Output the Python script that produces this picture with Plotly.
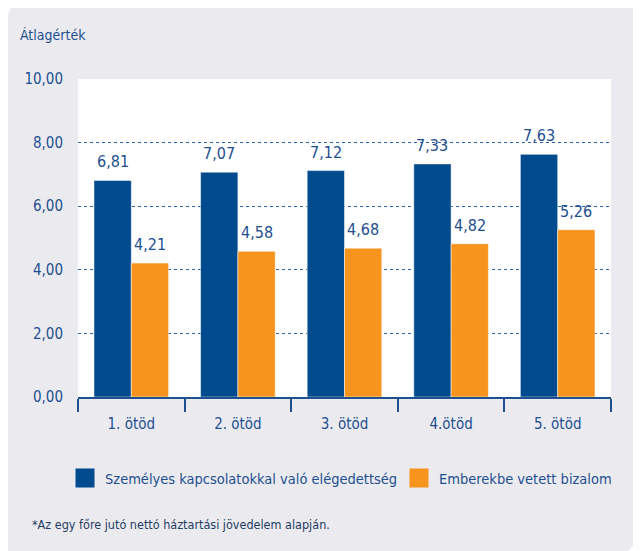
import plotly.graph_objects as go

categories = ["1. ötöd", "2. ötöd", "3. ötöd", "4.ötöd", "5. ötöd"]
series_names = ["Személyes kapcsolatokkal való elégedettség", "Emberekbe vetett bizalom"]
satisfaction = [6.81, 7.07, 7.12, 7.33, 7.63]
trust = [4.21, 4.58, 4.68, 4.82, 5.26]
y_ticks = [0, 2, 4, 6, 8, 10]
grid_vals = [2, 4, 6, 8]
y_title = "Átlagérték"
footnote = "*Az egy főre jutó nettó háztartási jövedelem alapján."

# the page puts the figure 8px in from the top-left corner
OFF = 8
W, H = 641 - OFF, 551 - OFF
L, R, T, B = 78 - OFF, 30, 79 - OFF, 154
PW, PH = W - L - R, H - T - B

BLUE = "#004a8e"
ORANGE = "#f7941e"
TXT = "#1d4f91"
GRAY = "#ebebef"
FONT = "DejaVu Sans Condensed, Liberation Sans Narrow, sans-serif"
BARGAP = 0.3


def px(x):
    return (x - OFF - L) / PW


def py(y):
    return 1 - (y - OFF - T) / PH


def path(points):
    s = ""
    for i, (a, b) in enumerate(points):
        s += ("M" if i == 0 else "L") + f"{px(a):.5f},{py(b):.5f} "
    return s + "Z"


fig = go.Figure()
fig.add_trace(go.Bar(x=categories, y=satisfaction, name=series_names[0],
                     marker=dict(color=BLUE, line=dict(color="rgba(255,255,255,0.5)", width=1)), showlegend=False))
fig.add_trace(go.Bar(x=categories, y=trust, name=series_names[1],
                     marker=dict(color=ORANGE, line=dict(color="rgba(255,255,255,0.5)", width=1)), showlegend=False))
# legend entries (one legend each, to place them like the original)
for nm, col, lg in zip(series_names, [BLUE, ORANGE], ["legend", "legend2"]):
    fig.add_trace(go.Scatter(x=[None], y=[None], mode="markers", name=nm, legend=lg,
                             marker=dict(symbol="square", size=16, color=col, line=dict(color=col, width=3))))

annotations = []
half = (1 - BARGAP) / 4
for vals, off in [(satisfaction, -half), (trust, half)]:
    for i, v in enumerate(vals):
        annotations.append(dict(x=i + off, y=v, xref="x", yref="y", text=f"{v:.2f}".replace(".", ","),
                                showarrow=False, yanchor="bottom", yshift=7,
                                font=dict(family=FONT, size=16, color=TXT)))
annotations.append(dict(x=px(18), y=py(35), xref="paper", yref="paper", text=y_title, showarrow=False,
                        xanchor="left", yanchor="middle", font=dict(family=FONT, size=14, color=TXT)))
annotations.append(dict(x=px(30), y=py(524), xref="paper", yref="paper", text=footnote, showarrow=False,
                        xanchor="left", yanchor="middle", font=dict(family=FONT, size=12.5, color="#1f3c64")))

white = dict(type="path", xref="paper", yref="paper", fillcolor="white", line=dict(width=0), layer="above")
shapes = [
    dict(white, path=path([(7, 7), (11, 7), (8, 15), (7, 15)])),
    dict(white, path=path([(638, 7), (643, 7), (643, 553), (638, 553)])),
    dict(white, path=f"M{px(638):.5f},{py(524):.5f} Q{px(638):.5f},{py(546):.5f} {px(626):.5f},{py(552):.5f} "
                     f"L{px(643):.5f},{py(553):.5f} L{px(643):.5f},{py(524):.5f} Z"),
]

leg_common = dict(orientation="h", xanchor="left", yanchor="middle", y=py(478),
                  font=dict(family=FONT, size=14.5, color=TXT), bgcolor="rgba(0,0,0,0)", itemsizing="trace")

fig.update_layout(
    width=W, height=H,
    margin=dict(l=L, r=R, t=T, b=B, autoexpand=False),
    paper_bgcolor=GRAY, plot_bgcolor="white",
    barmode="group", bargap=BARGAP, bargroupgap=0,
    separators=", ",
    font=dict(family=FONT, size=15, color=TXT),
    showlegend=True,
    legend=dict(leg_common, x=px(65)),
    legend2=dict(leg_common, x=px(399)),
    annotations=annotations,
    shapes=shapes,
    xaxis=dict(type="category", showline=True, linecolor=TXT, linewidth=2, ticks="outside",
               tickson="boundaries", ticklen=13, tickwidth=2, tickcolor=TXT, showgrid=False,
               ticklabelstandoff=12,
               tickfont=dict(family=FONT, size=15, color=TXT), range=[-0.5, 4.5]),
    yaxis=dict(range=[0, 10], tickvals=y_ticks, tickformat=".2f", showgrid=False, zeroline=False,
               showline=False, ticks="", ticklabelstandoff=14,
               tickfont=dict(family=FONT, size=15, color=TXT),
               minor=dict(tickvals=grid_vals, showgrid=True, gridcolor="#2a63a8", gridwidth=1,
                          griddash="3px,3px", ticks="")),
)

fig.write_html("out.html")
